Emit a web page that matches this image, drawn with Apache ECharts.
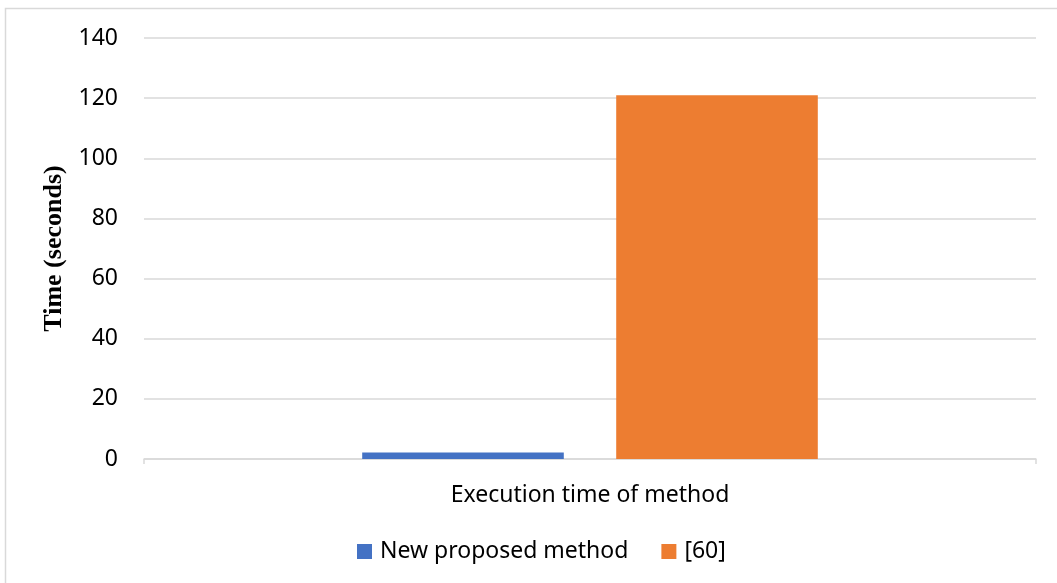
<!DOCTYPE html>
<html>
<head>
<meta charset="utf-8">
<script src="https://cdn.jsdelivr.net/npm/echarts@6/dist/echarts.min.js"></script>
<style>
html,body{margin:0;padding:0;background:#fff;}
#chart{width:1057px;height:583px;}
</style>
</head>
<body>
<div id="chart"></div>
<script>
var categories = ['Execution time of method'];
var seriesNames = ['New proposed method', '[60]'];
var newMethod = [2.2];
var ref60 = [121];
var yMin = 0, yMax = 140, yInterval = 20;

var chart = echarts.init(document.getElementById('chart'));
var font = 'Noto Sans';
chart.setOption({
  animation: false,
  backgroundColor: '#ffffff',
  graphic: [{
    type: 'rect',
    shape: {x: 5.5, y: 8.5, width: 1200, height: 1000},
    style: {fill: 'none', stroke: '#d9d9d9', lineWidth: 1.5},
    silent: true
  }],
  grid: {left: 144, right: 21, top: 38, bottom: 124, containLabel: false},
  legend: {
    data: seriesNames,
    top: 535,
    left: 352,
    itemWidth: 15,
    itemHeight: 15,
    itemGap: 33,
    icon: 'rect',
    textStyle: {fontFamily: font, fontSize: 23, color: '#000', padding: [0,0,0,3]}
  },
  xAxis: {
    type: 'category',
    data: categories,
    axisLine: {show: true, lineStyle: {color: '#d9d9d9', width: 1.5}},
    axisTick: {show: true, length: 5, lineStyle: {color: '#d9d9d9', width: 1.5}},
    axisLabel: {fontFamily: font, fontSize: 23, color: '#000', margin: 25}
  },
  yAxis: {
    type: 'value',
    min: yMin, max: yMax, interval: yInterval,
    name: 'Time (seconds)',
    nameLocation: 'middle',
    nameGap: 69,
    nameTextStyle: {fontFamily: 'Liberation Serif', fontWeight: 'bold', fontSize: 26, color: '#000'},
    axisLine: {show: false},
    axisTick: {show: false},
    splitLine: {lineStyle: {color: '#d9d9d9', width: 1.5}},
    axisLabel: {fontFamily: font, fontSize: 23, color: '#000', margin: 26}
  },
  series: [
    {name: seriesNames[0], type: 'bar', data: newMethod, barWidth: '22.6%', barGap: '26%', itemStyle: {color: '#4472C4'}},
    {name: seriesNames[1], type: 'bar', data: ref60, barWidth: '22.6%', barGap: '26%', itemStyle: {color: '#ED7D31'}}
  ]
});
</script>
</body>
</html>
